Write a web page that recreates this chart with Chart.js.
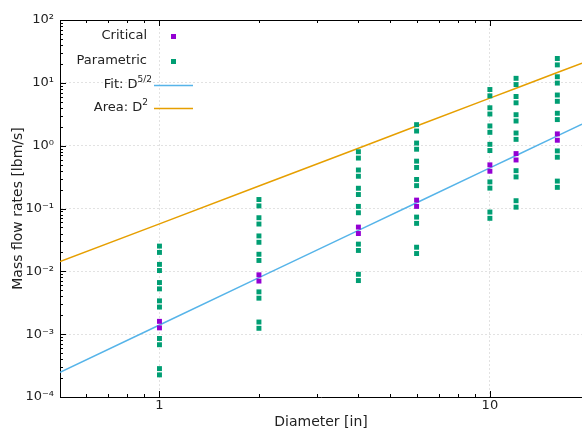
<!doctype html>
<html lang="en">

<head>
    <meta charset="utf-8">
    <title>Mass flow rates vs diameter</title>
    <script src="https://cdn.jsdelivr.net/npm/chart.js"></script>
    <style>
        html, body { margin: 0; padding: 0; background: #fff; }
        #wrap { width: 582px; height: 429px; }
    </style>
</head>

<body>
    <div id="wrap"><canvas id="flowChart" width="582" height="429"></canvas></div>

    <script>
        // Pipe diameters [in] where the runs were made
        const diameters = [1, 2, 4, 6, 10, 12, 16];

        // Critical flow rates [lbm/s], two points per diameter
        const criticalRates = [
            [0.00160, 0.00126],
            [0.0088, 0.0070],
            [0.0506, 0.0400],
            [0.136, 0.108],
            [0.495, 0.392],
            [0.748, 0.592],
            [1.54, 1.22]
        ];

        // Parametric flow rates [lbm/s], one row per diameter
        const parametricRates = [
            [0.0252, 0.0200, 0.0129, 0.0103, 0.00663, 0.00526, 0.00339, 0.00270, 0.000854, 0.000679, 0.000283, 0.000225],
            [0.139, 0.110, 0.0713, 0.0566, 0.0366, 0.0290, 0.0187, 0.0149, 0.00471, 0.00374, 0.00156, 0.00124],
            [0.800, 0.635, 0.410, 0.326, 0.210, 0.167, 0.108, 0.0856, 0.0271, 0.0215, 0.00897, 0.00713],
            [2.16, 1.71, 1.10, 0.878, 0.567, 0.450, 0.290, 0.231, 0.0730, 0.0580, 0.0242, 0.0192],
            [7.83, 6.21, 4.01, 3.19, 2.06, 1.63, 1.05, 0.837, 0.265, 0.211, 0.0878, 0.0698],
            [11.8, 9.38, 6.06, 4.81, 3.11, 2.47, 1.59, 1.26, 0.400, 0.318, 0.133, 0.105],
            [24.4, 19.3, 12.5, 9.91, 6.40, 5.08, 3.28, 2.60, 0.825, 0.655, 0.273, 0.217]
        ];

        // Fit (D^5/2) and area (D^2) lines
        const lineD = [0.5, 1, 2, 4, 6, 10, 12, 16, 19];
        const fitRates = [0.000247, 0.00140, 0.00792, 0.0448, 0.1235, 0.443, 0.698, 1.434, 2.203];
        const areaRates = [0.01425, 0.057, 0.228, 0.912, 2.052, 5.70, 8.21, 14.59, 20.58];

        const supDigits = { '-': '⁻', '0': '⁰', '1': '¹', '2': '²', '3': '³', '4': '⁴' };

        const FONT = '"DejaVu Sans", sans-serif';
        const TEXT = '#222';

        function toPoints(xs, rows) {
            return xs.flatMap((d, i) => rows[i].map(v => ({ x: d, y: v })));
        }

        function isMajor(v) {
            const e = Math.log10(v);
            return Math.abs(e - Math.round(e)) < 1e-9;
        }

        function isTick(v) {
            const m = v / Math.pow(10, Math.floor(Math.log10(v) + 1e-9));
            return Math.abs(m - Math.round(m)) < 1e-6;
        }

        // frame, inward ticks and the legend box (gnuplot look)
        const framePlugin = {
            id: 'frame',
            afterDraw(chart) {
                const { ctx, chartArea: a, scales: { x, y } } = chart;
                ctx.save();
                ctx.strokeStyle = '#000';
                ctx.lineWidth = 1;

                ctx.beginPath();
                ctx.moveTo(a.left, a.top + 0.5);
                ctx.lineTo(a.right, a.top + 0.5);
                ctx.stroke();

                ctx.beginPath();
                y.ticks.forEach(t => {
                    if (!isTick(t.value)) return;
                    const py = Math.round(y.getPixelForValue(t.value)) + 0.5;
                    const len = isMajor(t.value) ? 6 : 3;
                    ctx.moveTo(a.left, py);
                    ctx.lineTo(a.left + len, py);
                });
                x.ticks.forEach(t => {
                    if (!isTick(t.value)) return;
                    const px = Math.round(x.getPixelForValue(t.value)) + 0.5;
                    const len = isMajor(t.value) ? 6 : 3;
                    ctx.moveTo(px, a.bottom);
                    ctx.lineTo(px, a.bottom - len);
                    ctx.moveTo(px, a.top);
                    ctx.lineTo(px, a.top + len);
                });
                ctx.stroke();

                // legend
                ctx.fillStyle = TEXT;
                ctx.textBaseline = 'middle';
                ctx.font = '13px ' + FONT;
                ctx.textAlign = 'right';
                ctx.fillText('Critical', 147, 36);
                ctx.fillText('Parametric', 147, 61);

                ctx.fillStyle = '#9400d3';
                ctx.fillRect(171, 34, 5, 5);
                ctx.fillStyle = '#009e73';
                ctx.fillRect(171, 59, 5, 5);

                function supLabel(main, sup, right, yy) {
                    ctx.font = '9px ' + FONT;
                    const w = ctx.measureText(sup).width;
                    ctx.textAlign = 'left';
                    ctx.fillStyle = TEXT;
                    ctx.fillText(sup, right - w, yy - 5);
                    ctx.font = '13px ' + FONT;
                    ctx.textAlign = 'right';
                    ctx.fillText(main, right - w, yy);
                }
                supLabel('Fit: D', '5/2', 152, 85);
                supLabel('Area: D', '2', 148, 108);

                ctx.lineWidth = 1.5;
                ctx.strokeStyle = '#56b4e9';
                ctx.beginPath();
                ctx.moveTo(154, 85.5);
                ctx.lineTo(193, 85.5);
                ctx.stroke();
                ctx.strokeStyle = '#e69f00';
                ctx.beginPath();
                ctx.moveTo(154, 108.5);
                ctx.lineTo(193, 108.5);
                ctx.stroke();

                ctx.restore();
            }
        };

        const data = {
            datasets: [
                {
                    label: 'Critical',
                    data: toPoints(diameters, criticalRates),
                    pointStyle: 'rect',
                    pointRadius: 3.5,
                    borderWidth: 0,
                    backgroundColor: '#9400d3',
                    order: 1
                },
                {
                    label: 'Parametric',
                    data: toPoints(diameters, parametricRates),
                    pointStyle: 'rect',
                    pointRadius: 3.5,
                    borderWidth: 0,
                    backgroundColor: '#009e73',
                    order: 2
                },
                {
                    label: 'Fit: D^5/2',
                    data: lineD.map((d, i) => ({ x: d, y: fitRates[i] })),
                    showLine: true,
                    pointRadius: 0,
                    borderColor: '#56b4e9',
                    borderWidth: 1.5,
                    order: 3
                },
                {
                    label: 'Area: D^2',
                    data: lineD.map((d, i) => ({ x: d, y: areaRates[i] })),
                    showLine: true,
                    pointRadius: 0,
                    borderColor: '#e69f00',
                    borderWidth: 1.5,
                    order: 4
                }
            ]
        };

        const gridColor = ctx => (ctx.tick && isMajor(ctx.tick.value)) ? '#e2e2e2' : 'transparent';

        const config = {
            type: 'scatter',
            data: data,
            options: {
                responsive: false,
                devicePixelRatio: 1,
                animation: false,
                layout: { autoPadding: false, padding: { top: 20, right: 0, left: 0, bottom: 0 } },
                plugins: {
                    legend: { display: false },
                    tooltip: { enabled: false }
                },
                scales: {
                    x: {
                        type: 'logarithmic',
                        min: 0.5,
                        max: 19,
                        grid: { color: gridColor, drawTicks: false, lineWidth: 1 },
                        border: { color: '#000', width: 1, dash: [2, 2] },
                        ticks: {
                            autoSkip: false,
                            maxRotation: 0,
                            padding: 1,
                            color: TEXT,
                            font: { family: FONT, size: 13 },
                            callback: v => (v === 1 || v === 10) ? String(v) : ''
                        },
                        title: {
                            display: true,
                            text: 'Diameter [in]',
                            color: TEXT,
                            font: { family: FONT, size: 14, lineHeight: 1 },
                            padding: { top: 0, bottom: 0 }
                        },
                        afterFit: s => {
                            s.height = 32;
                            s.paddingLeft = 0;
                            s.paddingRight = 0;
                        }
                    },
                    y: {
                        type: 'logarithmic',
                        min: 1e-4,
                        max: 100,
                        grid: { color: gridColor, drawTicks: false, lineWidth: 1 },
                        border: { color: '#000', width: 1, dash: [2, 2] },
                        ticks: {
                            autoSkip: false,
                            padding: 6,
                            color: TEXT,
                            font: { family: FONT, size: 13 },
                            callback: v => {
                                if (!isMajor(v)) return '';
                                const e = String(Math.round(Math.log10(v)));
                                return '10' + e.split('').map(c => supDigits[c]).join('');
                            }
                        },
                        title: {
                            display: true,
                            text: 'Mass flow rates [lbm/s]',
                            color: TEXT,
                            font: { family: FONT, size: 14 },
                            padding: { top: 10, bottom: 0 }
                        },
                        afterFit: s => {
                            s.width = 60;
                            s.paddingTop = 0;
                            s.paddingBottom = 0;
                        }
                    }
                }
            },
            plugins: [framePlugin]
        };

        const chart = new Chart(document.getElementById('flowChart'), config);
    </script>
</body>

</html>
